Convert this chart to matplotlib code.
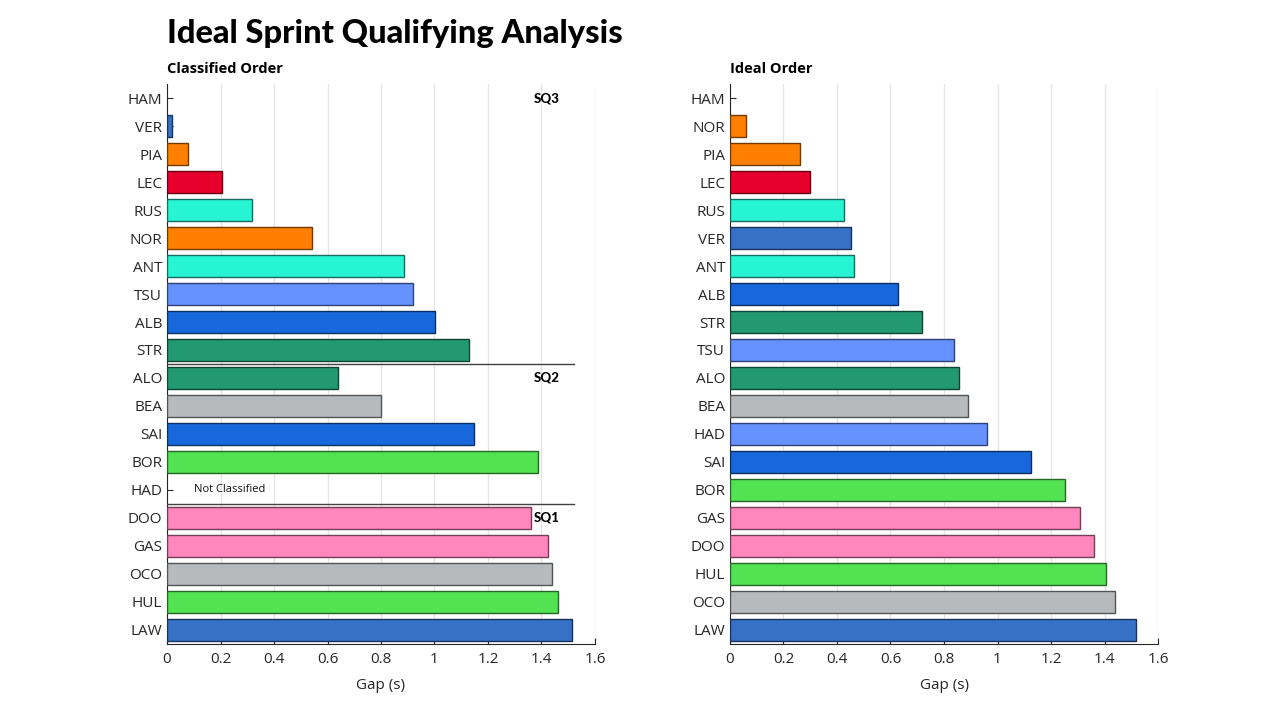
import matplotlib
matplotlib.use("Agg")
import matplotlib.pyplot as plt
import matplotlib.colors as mcolors

plt.rcParams['font.family'] = ['Open Sans', 'DejaVu Sans']

# Classified order (left panel)
classified_drivers = ['HAM', 'VER', 'PIA', 'LEC', 'RUS', 'NOR', 'ANT', 'TSU', 'ALB', 'STR',
                      'ALO', 'BEA', 'SAI', 'BOR', 'HAD',
                      'DOO', 'GAS', 'OCO', 'HUL', 'LAW']
classified_gaps = [0.0, 0.02, 0.08, 0.205, 0.318, 0.542, 0.886, 0.92, 1.002, 1.129,
                   0.639, 0.80, 1.148, 1.387, 0.0,
                   1.361, 1.424, 1.439, 1.462, 1.514]

# Ideal order (right panel)
ideal_drivers = ['HAM', 'NOR', 'PIA', 'LEC', 'RUS', 'VER', 'ANT', 'ALB', 'STR', 'TSU',
                 'ALO', 'BEA', 'HAD', 'SAI', 'BOR', 'GAS', 'DOO', 'HUL', 'OCO', 'LAW']
ideal_gaps = [0.0, 0.06, 0.262, 0.30, 0.426, 0.452, 0.464, 0.628, 0.718, 0.838,
              0.856, 0.89, 0.961, 1.126, 1.252, 1.309, 1.361, 1.406, 1.439, 1.518]

team_colors = {
    'HAM': '#E8002D', 'LEC': '#E8002D',
    'VER': '#3671C6', 'LAW': '#3671C6',
    'PIA': '#FF8000', 'NOR': '#FF8000',
    'RUS': '#27F4D2', 'ANT': '#27F4D2',
    'TSU': '#6692FF', 'HAD': '#6692FF',
    'ALB': '#1868DB', 'SAI': '#1868DB',
    'STR': '#229971', 'ALO': '#229971',
    'BEA': '#B6BABD', 'OCO': '#B6BABD',
    'BOR': '#52E252', 'HUL': '#52E252',
    'DOO': '#FF87BC', 'GAS': '#FF87BC',
}

session_labels = ['SQ3', 'SQ2', 'SQ1']
session_rows = [0, 10, 15]
session_breaks = [9.5, 14.5]


def darker(c, f=0.45):
    r, g, b = mcolors.to_rgb(c)
    return (r * f, g * f, b * f)


def style_axes(ax, drivers, gaps):
    ys = list(range(len(drivers)))
    cols = [team_colors[d] for d in drivers]
    # zero-gap bars get no outline so only the tick shows
    lws = [1 if g > 0 else 0 for g in gaps]
    ax.barh(ys, gaps, height=0.8, color=cols,
            edgecolor=[darker(c) for c in cols], linewidth=lws, zorder=3)
    ax.set_yticks(ys)
    ax.set_yticklabels(drivers)
    ax.set_ylim(len(drivers) - 0.5, -0.5)
    ax.set_xlim(0, 1.6)
    ax.set_xticks([0, 0.2, 0.4, 0.6, 0.8, 1, 1.2, 1.4, 1.6])
    ax.set_xticklabels(['0', '0.2', '0.4', '0.6', '0.8', '1', '1.2', '1.4', '1.6'])
    ax.grid(axis='x', color='#e6e6e6', linewidth=1, zorder=0)
    ax.set_axisbelow(True)
    for s in ['top', 'right']:
        ax.spines[s].set_visible(False)
    for s in ['left', 'bottom']:
        ax.spines[s].set_color('#262626')
        ax.spines[s].set_linewidth(0.8)
    ax.tick_params(direction='in', length=4, width=0.8, colors='#262626',
                   labelsize=11, labelcolor='#262626')
    ax.tick_params(axis='x', pad=6)
    ax.set_xlabel('Gap (s)', fontsize=11, color='#262626', labelpad=8)


fig = plt.figure(figsize=(12.8, 7.2), dpi=100)
ax1 = fig.add_axes([0.1305, 0.1056, 0.3343, 0.7777])
ax2 = fig.add_axes([0.5703, 0.1056, 0.3344, 0.7777])

style_axes(ax1, classified_drivers, classified_gaps)
style_axes(ax2, ideal_drivers, ideal_gaps)

for yb in session_breaks:
    ax1.plot([0, 1.52], [yb, yb], color='#404040', linewidth=1, zorder=4)
for lab, row in zip(session_labels, session_rows):
    ax1.text(1.37, row, lab, fontsize=9.5, fontweight='black', va='center',
             ha='left', zorder=5, family=['Lato', 'DejaVu Sans'])
ax1.text(0.1, classified_drivers.index('HAD'), 'Not Classified', fontsize=8,
         va='center', ha='left', color='#111111')

ax1.set_title('Classified Order', loc='left', fontsize=10.5, fontweight='bold', pad=8)
ax2.set_title('Ideal Order', loc='left', fontsize=10.5, fontweight='bold', pad=8)

fig.text(0.1305, 0.953, 'Ideal Sprint Qualifying Analysis', fontsize=23.5,
         fontweight='black', va='center', ha='left', family=['Lato', 'DejaVu Sans'])

fig.savefig('out.png', dpi=100)
